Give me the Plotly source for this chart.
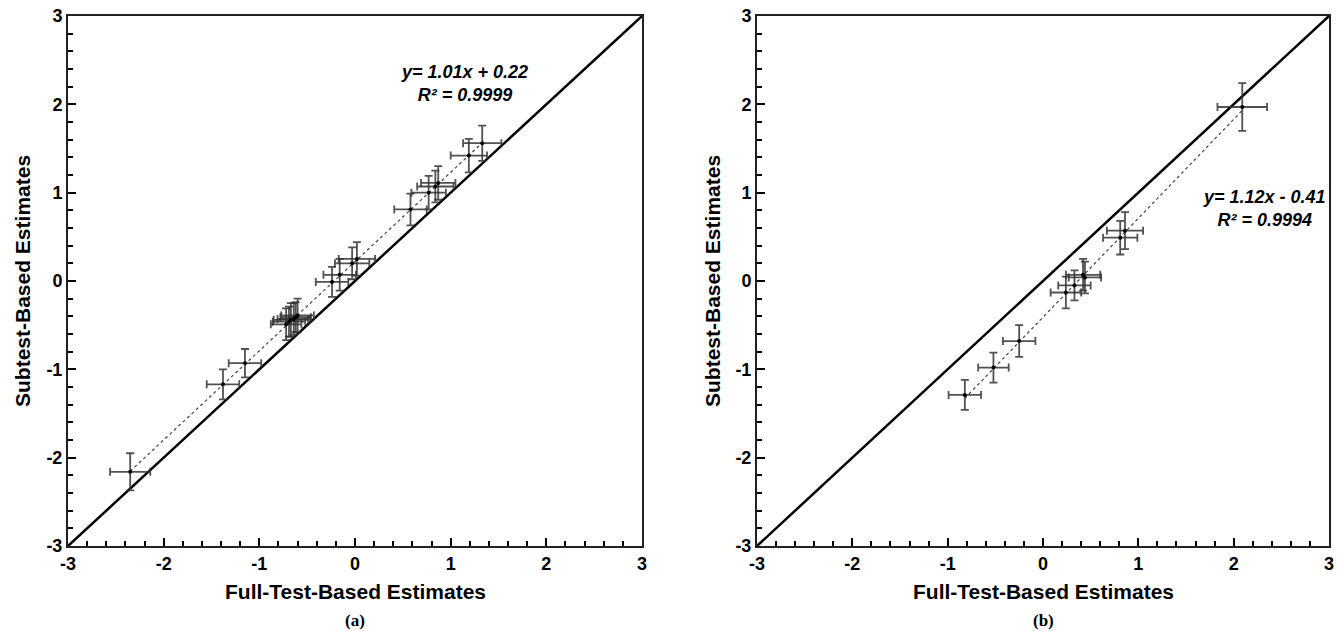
import plotly.graph_objects as go

# ---------------- data ----------------
# Panel (a)
a_full = [-2.35, -1.38, -1.15, -0.72, -0.69, -0.67, -0.64, -0.62, -0.60,
          -0.24, -0.16, -0.03, 0.02, 0.58, 0.77, 0.84, 0.87, 1.19, 1.33]
a_sub = [-2.16, -1.17, -0.93, -0.49, -0.46, -0.44, -0.43, -0.41, -0.39,
         -0.01, 0.07, 0.20, 0.25, 0.81, 1.00, 1.07, 1.11, 1.42, 1.56]
a_err_x = [0.21, 0.17, 0.17, 0.16, 0.17, 0.18, 0.17, 0.16, 0.17,
           0.17, 0.17, 0.18, 0.19, 0.17, 0.18, 0.19, 0.18, 0.19, 0.20]
a_err_y = [0.21, 0.17, 0.16, 0.18, 0.17, 0.19, 0.18, 0.17, 0.19,
           0.17, 0.18, 0.18, 0.19, 0.18, 0.19, 0.18, 0.19, 0.19, 0.20]
a_slope, a_intercept = 1.01, 0.22
a_eq = "y= 1.01x + 0.22<br>R² = 0.9999"

# Panel (b)
b_full = [-0.82, -0.52, -0.25, 0.24, 0.33, 0.42, 0.44, 0.81, 0.86, 2.09]
b_sub = [-1.29, -0.98, -0.68, -0.13, -0.05, 0.07, 0.04, 0.49, 0.57, 1.97]
b_err_x = [0.17, 0.16, 0.17, 0.16, 0.17, 0.18, 0.17, 0.18, 0.19, 0.26]
b_err_y = [0.17, 0.17, 0.18, 0.18, 0.17, 0.18, 0.18, 0.19, 0.21, 0.27]
b_slope, b_intercept = 1.12, -0.41
b_eq = "y= 1.12x - 0.41<br>R² = 0.9994"

axis_range = [-3, 3]
tick_vals = [-3, -2, -1, 0, 1, 2, 3]
tick_text = ["-3", "-2", "-1", "0", "1", "2", "3"]
x_title = "Full-Test-Based Estimates"
y_title = "Subtest-Based Estimates"
captions = ["(a)", "(b)"]

# ---------------- figure ----------------
W, H = 1341, 631
fig = go.Figure()


def px(p):
    return p / W


def py(p):
    return 1 - p / H


FONT = "Liberation Sans, Arial, sans-serif"
bar_col = "rgba(50,50,50,0.85)"

panels = [
    (a_full, a_sub, a_err_x, a_err_y, a_slope, a_intercept, "x", "y"),
    (b_full, b_sub, b_err_x, b_err_y, b_slope, b_intercept, "x2", "y2"),
]

for full, sub, ex, ey, m, c, xa, ya in panels:
    fig.add_trace(go.Scatter(x=axis_range, y=axis_range, mode="lines",
                             line=dict(color="black", width=2.5),
                             xaxis=xa, yaxis=ya, showlegend=False, hoverinfo="skip"))
    xr = [min(full), max(full)]
    fig.add_trace(go.Scatter(x=xr, y=[m * v + c for v in xr], mode="lines",
                             line=dict(color="#444444", width=1.2, dash="3px,3px"),
                             xaxis=xa, yaxis=ya, showlegend=False, hoverinfo="skip"))
    fig.add_trace(go.Scatter(
        x=full, y=sub, mode="markers",
        marker=dict(color="black", size=4),
        error_x=dict(type="data", array=ex, visible=True, color=bar_col, thickness=1.8, width=4),
        error_y=dict(type="data", array=ey, visible=True, color=bar_col, thickness=1.8, width=4),
        xaxis=xa, yaxis=ya, showlegend=False))

x_domains = [[px(68), px(642)], [px(757), px(1329)]]
y_domain = [py(546), py(16)]

axis_common = dict(
    range=axis_range, tickmode="array", tickvals=tick_vals, ticktext=tick_text,
    ticks="inside", ticklen=8, tickwidth=1.5, automargin=False,
    ticklabeloverflow="allow",
    tickcolor="black", showline=True, linewidth=2, linecolor="#222222", mirror=True,
    showgrid=False, zeroline=False,
    tickfont=dict(family=FONT, size=18, color="black", weight="bold"),
    minor=dict(ticks="inside", dtick=0.2, tick0=0, ticklen=5, tickwidth=1.5,
               tickcolor="black", showgrid=False),
)

fig.update_layout(
    width=W, height=H,
    margin=dict(l=0, r=0, t=0, b=0, autoexpand=False),
    paper_bgcolor="white", plot_bgcolor="white",
    xaxis=dict(domain=x_domains[0], anchor="y", **axis_common),
    yaxis=dict(domain=y_domain, anchor="x", **axis_common),
    xaxis2=dict(domain=x_domains[1], anchor="y2", **axis_common),
    yaxis2=dict(domain=y_domain, anchor="x2", **axis_common),
)

annotations = []
annotations.append(dict(x=1.14, y=2.24, xref="x", yref="y", text="<i>" + a_eq + "</i>",
                        showarrow=False, xanchor="center", yanchor="middle", align="center",
                        font=dict(family=FONT, size=18, color="black", weight="bold")))
annotations.append(dict(x=2.32, y=0.82, xref="x2", yref="y2", text="<i>" + b_eq + "</i>",
                        showarrow=False, xanchor="center", yanchor="middle", align="center",
                        font=dict(family=FONT, size=18, color="black", weight="bold")))
for i, (xd, yx) in enumerate(zip(x_domains, [px(22), px(712)])):
    cx = (xd[0] + xd[1]) / 2
    annotations.append(dict(x=cx, y=py(591), xref="paper", yref="paper", text=x_title,
                            showarrow=False, xanchor="center", yanchor="middle",
                            font=dict(family=FONT, size=21, color="black", weight="bold")))
    annotations.append(dict(x=yx, y=py(281), xref="paper", yref="paper", text=y_title,
                            textangle=-90, showarrow=False, xanchor="center", yanchor="middle",
                            font=dict(family=FONT, size=21, color="black", weight="bold")))
    annotations.append(dict(x=cx, y=py(620), xref="paper", yref="paper", text=captions[i],
                            showarrow=False, xanchor="center", yanchor="middle",
                            font=dict(family="Liberation Serif, Times New Roman, serif", size=17,
                                      color="black", weight="bold")))
fig.update_layout(annotations=annotations)

fig.write_html("out.html",
               config={"displayModeBar": False},
               post_script="document.body.style.margin='0';document.body.style.overflow='hidden';")
